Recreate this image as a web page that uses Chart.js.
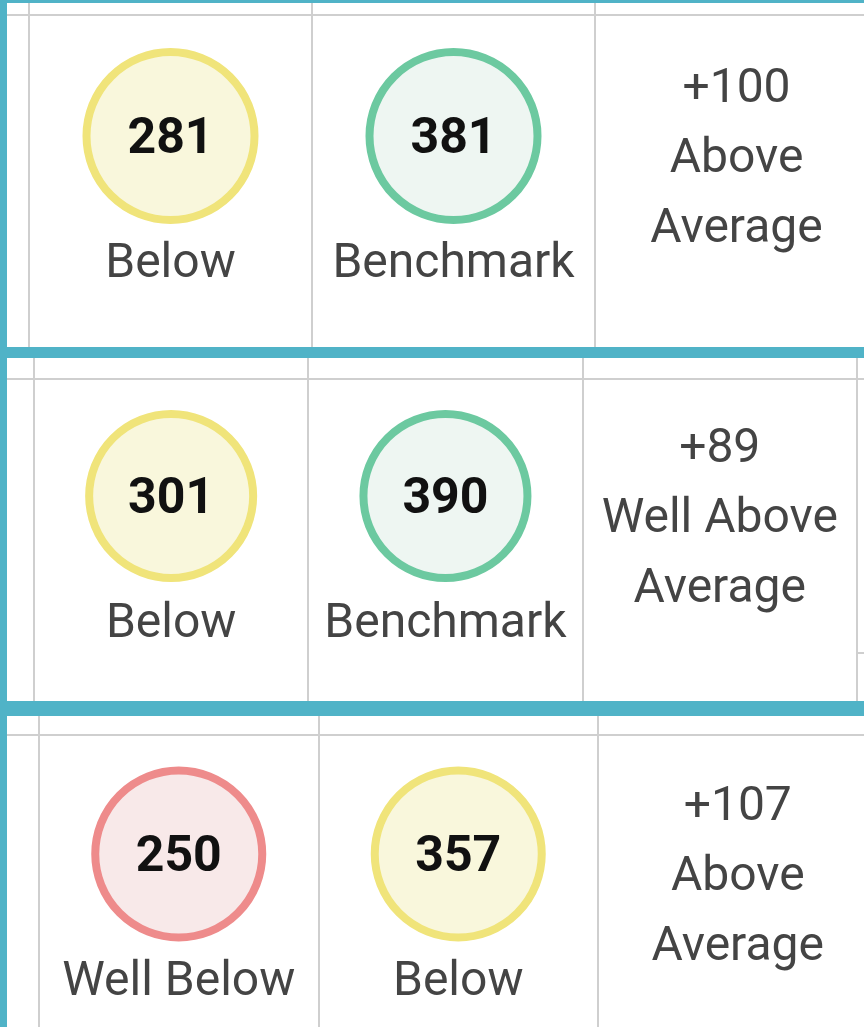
<!DOCTYPE html>
<html>
<head>
<meta charset="utf-8">
<script src="https://cdn.jsdelivr.net/npm/chart.js@4.4.1/dist/chart.umd.min.js"></script>
<style>
  body { margin: 0; width: 864px; height: 1027px; overflow: hidden; position: relative; background: #50b3c7; }
  .panel { position: absolute; left: 7px; width: 857px; background: #fff; }
  canvas { display: block; }
</style>
</head>
<body>
<div class="panel" style="top:3px;height:344px"><canvas id="c0" width="857" height="344"></canvas></div>
<div class="panel" style="top:358px;height:343px"><canvas id="c1" width="857" height="343"></canvas></div>
<div class="panel" style="top:716px;height:311px"><canvas id="c2" width="857" height="311"></canvas></div>
<script>
// one entry per panel
const yourScores = [281, 301, 250];
const benchmarkScores = [381, 390, 357];
const yourLevels = ['Below', 'Below', 'Well Below'];
const benchmarkLevels = ['Benchmark', 'Benchmark', 'Below'];
const gapValues = [100, 89, 107];
const gapLabels = [['Above', 'Average'], ['Well Above', 'Average'], ['Above', 'Average']];

const levelColors = {
  'Well Below': { border: '#ee8b8b', fill: '#f8e9e9' },
  'Below': { border: '#f0e47a', fill: '#f9f7dc' },
  'Benchmark': { border: '#6cc9a0', fill: '#eef6f2' }
};

// where the columns sit inside each panel (pixels of the canvas)
const panelLayout = [
  { firstLine: 22, colWidth: 283, headerY: 12, rowY: 133, radius: 84 },
  { firstLine: 27, colWidth: 274.3, headerY: 21, rowY: 138, radius: 82, stubY: 295 },
  { firstLine: 32, colWidth: 279.5, headerY: 19, rowY: 138, radius: 83.5 }
];

const FONT = 'Roboto, "Liberation Sans", sans-serif';
const GRID = '#cfcfcf';

const tablePlugin = {
  id: 'table',
  beforeDatasetsDraw(chart, args, opts) {
    const { ctx, scales: { x, y }, width, height } = chart;
    const hy = y.getPixelForValue(opts.headerValue);
    ctx.save();
    ctx.strokeStyle = GRID;
    ctx.lineWidth = 2;
    ctx.beginPath();
    ctx.moveTo(0, hy);
    ctx.lineTo(width, hy);
    [-0.5, 0.5, 1.5, 2.5].forEach(v => {
      const px = Math.round(x.getPixelForValue(v));
      ctx.moveTo(px, 0);
      ctx.lineTo(px, height);
    });
    if (opts.stubY) {
      const px = Math.round(x.getPixelForValue(2.5));
      ctx.moveTo(px, opts.stubY);
      ctx.lineTo(width, opts.stubY);
    }
    ctx.stroke();
    ctx.restore();
  },
  afterDatasetsDraw(chart, args, opts) {
    const { ctx, scales: { x, y } } = chart;
    const i = opts.index;
    const cy = y.getPixelForValue(0);
    ctx.save();
    ctx.textAlign = 'center';
    ctx.textBaseline = 'alphabetic';

    [yourScores[i], benchmarkScores[i]].forEach((s, col) => {
      ctx.fillStyle = '#111';
      ctx.font = 'bold 50px ' + FONT;
      ctx.fillText(String(s), x.getPixelForValue(col), cy + 17);
    });
    [yourLevels[i], benchmarkLevels[i]].forEach((l, col) => {
      ctx.fillStyle = '#444';
      ctx.font = '48px ' + FONT;
      ctx.fillText(l, x.getPixelForValue(col), cy + 141);
    });

    const gx = x.getPixelForValue(2);
    ctx.fillStyle = '#444';
    ctx.font = '48px ' + FONT;
    ctx.fillText('+' + gapValues[i], gx, cy - 34);
    ctx.fillText(gapLabels[i][0], gx, cy + 36);
    ctx.fillText(gapLabels[i][1], gx, cy + 106);
    ctx.restore();
  }
};

panelLayout.forEach((p, i) => {
  const canvas = document.getElementById('c' + i);
  const w = canvas.width, h = canvas.height;
  const xMin = -0.5 - p.firstLine / p.colWidth;
  const levels = [yourLevels[i], benchmarkLevels[i]];

  new Chart(canvas, {
    type: 'scatter',
    data: {
      datasets: [{
        data: [yourScores[i], benchmarkScores[i]].map((s, col) => ({ x: col, y: 0, score: s })),
        clip: false,
        pointRadius: p.radius,
        pointHoverRadius: p.radius,
        pointBorderWidth: 8,
        pointHoverBorderWidth: 8,
        pointBackgroundColor: levels.map(l => levelColors[l].fill),
        pointBorderColor: levels.map(l => levelColors[l].border)
      }]
    },
    options: {
      responsive: false,
      animation: false,
      events: [],
      layout: { padding: 0, autoPadding: false },
      scales: {
        x: { type: 'linear', display: false, min: xMin, max: xMin + w / p.colWidth },
        y: { type: 'linear', display: false, min: p.rowY - h, max: p.rowY }
      },
      plugins: {
        legend: { display: false },
        tooltip: { enabled: false },
        table: { index: i, headerValue: p.rowY - p.headerY, stubY: p.stubY }
      }
    },
    plugins: [tablePlugin]
  });
});
</script>
</body>
</html>
